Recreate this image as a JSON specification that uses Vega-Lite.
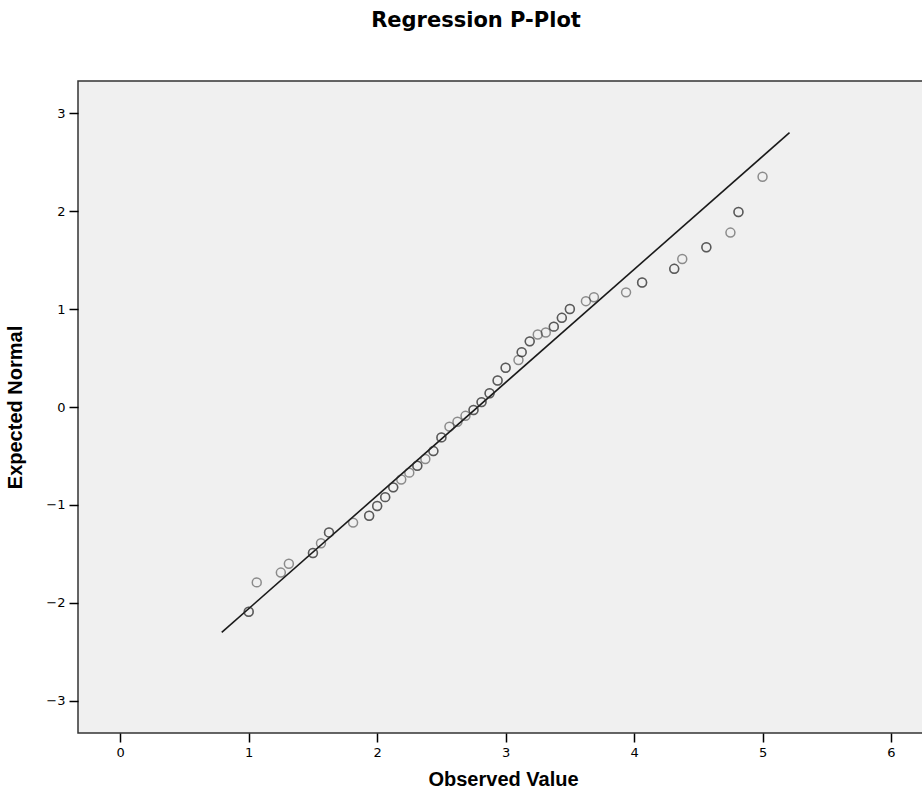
{
  "$schema": "https://vega.github.io/schema/vega-lite/v6.json",
  "autosize": "none",
  "width": 850,
  "height": 652,
  "padding": {"left": 78, "top": 81, "right": 0, "bottom": 58},
  "background": "white",
  "title": {
    "text": "Regression P-Plot",
    "font": "DejaVu Sans",
    "fontSize": 21,
    "fontWeight": "bold",
    "color": "#000000",
    "anchor": "middle",
    "dx": -27,
    "offset": 33,
    "baseline": "alphabetic"
  },
  "config": {
    "view": {"fill": "#f0f0f0", "stroke": "#333333", "strokeWidth": 1.5},
    "axis": {
      "domain": false,
      "grid": false,
      "tickColor": "#000000",
      "tickSize": 9,
      "tickWidth": 1.5,
      "labelFont": "DejaVu Sans",
      "labelFontSize": 13,
      "labelColor": "#000000",
      "labelPadding": 4,
      "format": "d",
      "titleFont": "Liberation Sans",
      "titleFontSize": 20,
      "titleFontWeight": "bold",
      "titleColor": "#000000"
    }
  },
  "datasets": {
    "points": [
      {"observed": 1.0, "expected": -2.09},
      {"observed": 1.0, "expected": -2.09},
      {"observed": 1.0625, "expected": -1.79},
      {"observed": 1.25, "expected": -1.69},
      {"observed": 1.3125, "expected": -1.60},
      {"observed": 1.5, "expected": -1.49},
      {"observed": 1.5, "expected": -1.49},
      {"observed": 1.5625, "expected": -1.39},
      {"observed": 1.625, "expected": -1.28},
      {"observed": 1.625, "expected": -1.28},
      {"observed": 1.8125, "expected": -1.18},
      {"observed": 1.9375, "expected": -1.11},
      {"observed": 1.9375, "expected": -1.11},
      {"observed": 2.0, "expected": -1.01},
      {"observed": 2.0, "expected": -1.01},
      {"observed": 2.0625, "expected": -0.92},
      {"observed": 2.0625, "expected": -0.92},
      {"observed": 2.125, "expected": -0.82},
      {"observed": 2.125, "expected": -0.82},
      {"observed": 2.1875, "expected": -0.74},
      {"observed": 2.25, "expected": -0.67},
      {"observed": 2.3125, "expected": -0.60},
      {"observed": 2.3125, "expected": -0.60},
      {"observed": 2.375, "expected": -0.53},
      {"observed": 2.4375, "expected": -0.45},
      {"observed": 2.4375, "expected": -0.45},
      {"observed": 2.5, "expected": -0.31},
      {"observed": 2.5, "expected": -0.31},
      {"observed": 2.5625, "expected": -0.20},
      {"observed": 2.625, "expected": -0.15},
      {"observed": 2.6875, "expected": -0.09},
      {"observed": 2.75, "expected": -0.03},
      {"observed": 2.75, "expected": -0.03},
      {"observed": 2.8125, "expected": 0.05},
      {"observed": 2.8125, "expected": 0.05},
      {"observed": 2.875, "expected": 0.14},
      {"observed": 2.875, "expected": 0.14},
      {"observed": 2.9375, "expected": 0.27},
      {"observed": 2.9375, "expected": 0.27},
      {"observed": 3.0, "expected": 0.40},
      {"observed": 3.0, "expected": 0.40},
      {"observed": 3.1, "expected": 0.48},
      {"observed": 3.125, "expected": 0.56},
      {"observed": 3.125, "expected": 0.56},
      {"observed": 3.1875, "expected": 0.67},
      {"observed": 3.1875, "expected": 0.67},
      {"observed": 3.25, "expected": 0.74},
      {"observed": 3.3125, "expected": 0.76},
      {"observed": 3.375, "expected": 0.82},
      {"observed": 3.375, "expected": 0.82},
      {"observed": 3.4375, "expected": 0.91},
      {"observed": 3.4375, "expected": 0.91},
      {"observed": 3.5, "expected": 1.00},
      {"observed": 3.5, "expected": 1.00},
      {"observed": 3.625, "expected": 1.08},
      {"observed": 3.6875, "expected": 1.12},
      {"observed": 3.9375, "expected": 1.17},
      {"observed": 4.0625, "expected": 1.27},
      {"observed": 4.0625, "expected": 1.27},
      {"observed": 4.3125, "expected": 1.41},
      {"observed": 4.3125, "expected": 1.41},
      {"observed": 4.375, "expected": 1.51},
      {"observed": 4.5625, "expected": 1.63},
      {"observed": 4.5625, "expected": 1.63},
      {"observed": 4.75, "expected": 1.78},
      {"observed": 4.8125, "expected": 1.99},
      {"observed": 4.8125, "expected": 1.99},
      {"observed": 5.0, "expected": 2.35}
    ],
    "fit": [
      {"observed": 0.79, "expected": -2.30},
      {"observed": 5.21, "expected": 2.80}
    ]
  },
  "layer": [
    {
      "data": {"name": "fit"},
      "mark": {"type": "line", "color": "#1a1a1a", "strokeWidth": 1.6},
      "encoding": {
        "x": {
          "field": "observed",
          "type": "quantitative",
          "scale": {"domain": [-0.329, 6.288], "nice": false, "zero": false},
          "axis": {"values": [0, 1, 2, 3, 4, 5, 6], "title": "Observed Value", "titlePadding": 10}
        },
        "y": {
          "field": "expected",
          "type": "quantitative",
          "scale": {"domain": [-3.327, 3.327], "nice": false, "zero": false},
          "axis": {"values": [-3, -2, -1, 0, 1, 2, 3], "title": "Expected Normal", "titlePadding": 20}
        }
      }
    },
    {
      "data": {"name": "points"},
      "mark": {
        "type": "point",
        "shape": "circle",
        "filled": false,
        "size": 80,
        "stroke": "#2a2a2a",
        "strokeOpacity": 0.72,
        "strokeWidth": 1.5
      },
      "encoding": {
        "x": {"field": "observed", "type": "quantitative"},
        "y": {"field": "expected", "type": "quantitative"}
      }
    }
  ]
}
